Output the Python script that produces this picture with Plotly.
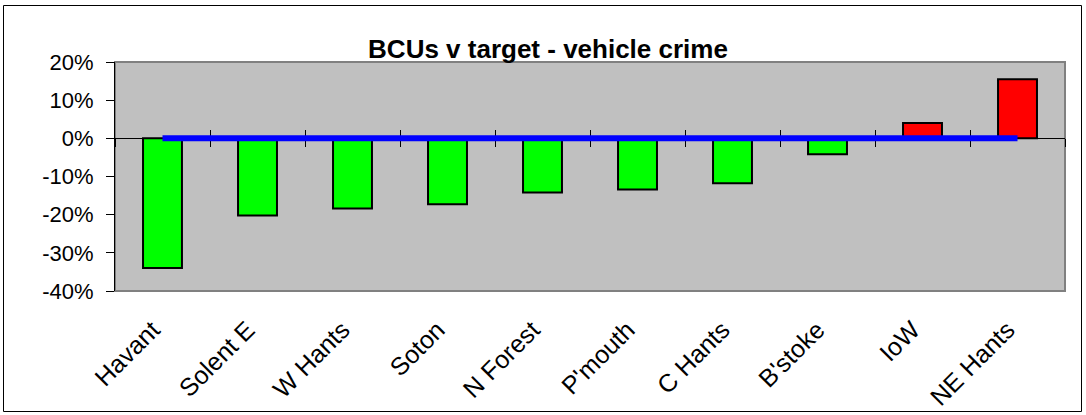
import plotly.graph_objects as go

# ==========================================
# DATA
# ==========================================

bcus = ["Havant", "Solent E", "W Hants", "Soton", "N Forest",
        "P'mouth", "C Hants", "B'stoke", "IoW", "NE Hants"]

vs_target = [-0.34, -0.202, -0.184, -0.173, -0.142,
             -0.134, -0.118, -0.042, 0.04, 0.155]

target = [0, 0, 0, 0, 0, 0, 0, 0, 0, 0]

y_ticks = [-0.4, -0.3, -0.2, -0.1, 0, 0.1, 0.2]
y_tick_labels = ["-40%", "-30%", "-20%", "-10%", "0%", "10%", "20%"]

# ==========================================
# LAYOUT SIZES
# ==========================================

W, H = 1086, 415
ML, MR, MT, MB = 115, 21, 62, 124
PW = W - ML - MR
PH = H - MT - MB

FONT = "Arial, Liberation Sans, sans-serif"

y_min, y_max = y_ticks[0], y_ticks[-1]
zero_pos = (0 - y_min) / (y_max - y_min)
zero_to_bottom = zero_pos * PH

bar_colors = ["#00FF00" if v < 0 else "#FF0000" for v in vs_target]

fig = go.Figure()

fig.add_trace(
    go.Bar(
        x=bcus,
        y=vs_target,
        marker=dict(color=bar_colors, line=dict(color="black", width=2)),
        width=0.41,
        showlegend=False,
        hoverinfo="x+y",
    )
)

fig.add_trace(
    go.Scatter(
        x=bcus,
        y=target,
        xaxis="x2",
        mode="lines",
        line=dict(color="#0000FF", width=6),
        showlegend=False,
        cliponaxis=False,
    )
)

fig.update_layout(
    width=W,
    height=H,
    margin=dict(l=ML, r=MR, t=MT, b=MB, autoexpand=False),
    paper_bgcolor="white",
    plot_bgcolor="#C0C0C0",
    font=dict(family=FONT, size=20, color="black"),
    title=dict(
        text="<b>BCUs v target - vehicle crime</b>",
        x=548 / W,
        xanchor="center",
        xref="container",
        y=1 - 49 / H,
        yanchor="middle",
        font=dict(size=26, family=FONT, color="black"),
    ),
    # category axis sits on the zero line, labels pushed to the bottom
    xaxis=dict(
        type="category",
        anchor="free",
        position=zero_pos,
        automargin=False,
        layer="below traces",
        showline=True,
        linecolor="black",
        linewidth=1,
        showgrid=False,
        zeroline=False,
        ticks="outside",
        ticklen=8,
        tickcolor="black",
        tickson="boundaries",
        tickangle=-45,
        tickfont=dict(size=25),
        ticklabelstandoff=int(zero_to_bottom) + 14,
        ticklabelshift=-10,
    ),
    xaxis2=dict(
        type="category",
        overlaying="x",
        matches="x",
        anchor="free",
        position=zero_pos,
        automargin=False,
        layer="below traces",
        showline=False,
        showgrid=False,
        zeroline=False,
        ticks="inside",
        ticklen=8,
        tickcolor="black",
        tickson="boundaries",
        showticklabels=False,
    ),
    yaxis=dict(
        range=[y_min, y_max],
        tickvals=y_ticks,
        ticktext=y_tick_labels,
        automargin=False,
        showgrid=False,
        zeroline=False,
        showline=True,
        linecolor="black",
        linewidth=1,
        ticks="outside",
        ticklen=8,
        tickcolor="black",
        tickfont=dict(size=22),
        ticklabelstandoff=8,
    ),
    bargap=0.59,
)

# grey plot area border
fig.add_shape(
    type="rect", xref="x domain", yref="y domain",
    x0=0, x1=1, y0=0, y1=1,
    line=dict(color="#808080", width=2),
    layer="below",
)

# outer chart border
fig.add_shape(
    type="rect", xref="paper", yref="paper",
    x0=-(ML - 3.5) / PW, x1=1 + (MR - 4.5) / PW,
    y0=-(MB - 3.5) / PH, y1=1 + (MT - 5.5) / PH,
    line=dict(color="black", width=1),
)

fig.write_html(
    "out.html",
    config={"displayModeBar": False},
    post_script="document.body.style.margin='0';"
                "document.body.style.overflow='hidden';",
)
